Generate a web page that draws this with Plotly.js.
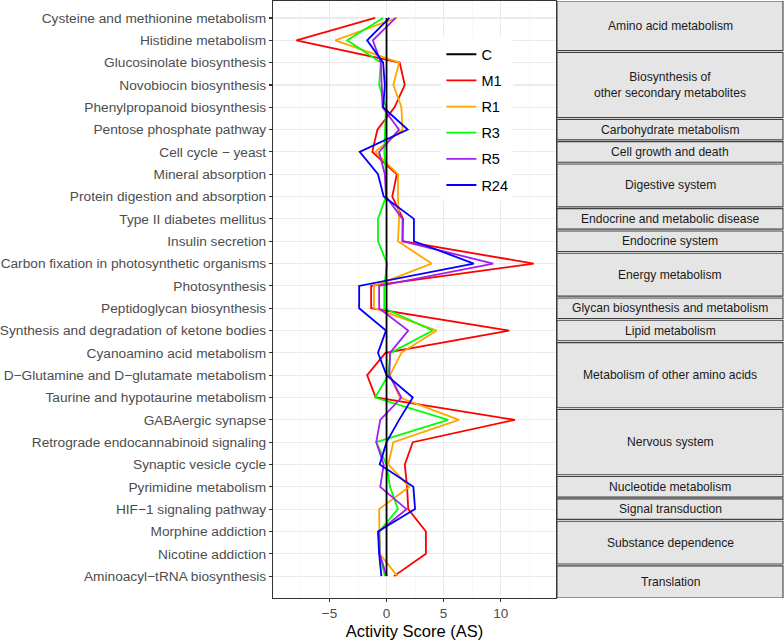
<!DOCTYPE html>
<html>
<head>
<meta charset="utf-8">
<script src="https://cdn.plot.ly/plotly-3.0.1.min.js"></script>
<style>html,body{margin:0;padding:0;background:#fff;}#chart{width:784px;height:640px;}</style>
</head>
<body>
<div id="chart"></div>
<script>
const pathways = [
  "Cysteine and methionine metabolism",
  "Histidine metabolism",
  "Glucosinolate biosynthesis",
  "Novobiocin biosynthesis",
  "Phenylpropanoid biosynthesis",
  "Pentose phosphate pathway",
  "Cell cycle \u2212 yeast",
  "Mineral absorption",
  "Protein digestion and absorption",
  "Type II diabetes mellitus",
  "Insulin secretion",
  "Carbon fixation in photosynthetic organisms",
  "Photosynthesis",
  "Peptidoglycan biosynthesis",
  "Synthesis and degradation of ketone bodies",
  "Cyanoamino acid metabolism",
  "D\u2212Glutamine and D\u2212glutamate metabolism",
  "Taurine and hypotaurine metabolism",
  "GABAergic synapse",
  "Retrograde endocannabinoid signaling",
  "Synaptic vesicle cycle",
  "Pyrimidine metabolism",
  "HIF\u22121 signaling pathway",
  "Morphine addiction",
  "Nicotine addiction",
  "Aminoacyl\u2212tRNA biosynthesis"
];

const C   = [0,0,0,0,0,0,0,0,0,0,0,0,0,0,0,0,0,0,0,0,0,0,0,0,0,0];
const M1  = [-1.0,-7.9,1.15,1.6,0.7,-0.8,-1.25,0.9,0.5,1.45,1.4,12.9,-1.35,-1.35,10.75,-0.1,-1.7,-0.95,11.25,2.3,1.6,1.8,1.9,3.45,3.45,0.65];
const R1  = [0.9,-4.5,1.1,0.6,1.3,1.4,-1.0,1.0,1.0,1.1,1.0,3.95,-1.1,-1.1,4.4,1.3,0.3,1.15,6.35,0.6,0.15,2.0,-0.65,-0.65,-0.6,0.95];
const R3  = [-0.3,-3.45,-0.5,-0.65,-0.05,-0.1,-0.2,-0.05,-0.05,-0.75,-0.75,0.05,-0.2,-0.2,4.05,0.35,0.15,-1.0,5.4,-0.9,0.0,0.3,1.0,-0.65,-0.6,-0.15];
const R5  = [0.8,-1.2,-0.5,-0.45,-0.35,1.1,-0.65,-0.15,-0.05,1.4,1.4,9.35,-0.65,-0.65,1.9,0.3,0.25,1.3,-0.55,-0.9,-0.25,-0.55,1.75,-0.65,-0.6,0.0];
const R24 = [0.25,-1.7,-0.3,-0.15,-0.3,1.85,-2.35,-0.75,-0.25,2.4,2.4,7.65,-2.4,-2.4,-0.05,-0.75,0.0,2.3,1.1,0.0,-0.6,2.35,2.5,-0.75,-0.65,-0.45];

const seriesNames = ["C","M1","R1","R3","R5","R24"];
const seriesColors = ["#000000","#FF0000","#FFA500","#00FF00","#A020F0","#0000FF"];
const seriesValues = [C, M1, R1, R3, R5, R24];

const groupLabels = [
  "Amino acid metabolism",
  "Biosynthesis of<br>other secondary metabolites",
  "Carbohydrate metabolism",
  "Cell growth and death",
  "Digestive system",
  "Endocrine and metabolic disease",
  "Endocrine system",
  "Energy metabolism",
  "Glycan biosynthesis and metabolism",
  "Lipid metabolism",
  "Metabolism of other amino acids",
  "Nervous system",
  "Nucleotide metabolism",
  "Signal transduction",
  "Substance dependence",
  "Translation"
];
const groupSizes = [2,3,1,1,2,1,1,2,1,1,3,3,1,1,2,1];

const yRange = [25.98, -0.76];

const traces = [];
// draw colored series first, black C on top
const order = [1,2,3,4,5,0];
order.forEach(i => {
  traces.push({
    type: "scatter", mode: "lines",
    x: seriesValues[i], y: pathways,
    name: seriesNames[i],
    legendrank: i + 1,
    legendgroup: seriesNames[i],
    line: {color: seriesColors[i], width: 1.8},
    hoverinfo: "x+y+name"
  });
});

const shapes = [];
const annotations = [];
const xPlot0 = 273, xPlot1 = 556;
const pw = xPlot1 - xPlot0;
const sx0 = (557 - xPlot0) / pw, sx1 = (783 - xPlot0) / pw;
let start = 0;
groupSizes.forEach((n, gi) => {
  let y0 = start - 0.5 + 0.04;
  let y1 = start + n - 1 + 0.5 - 0.04;
  if (gi === 0) y0 = yRange[1];
  if (gi === groupSizes.length - 1) y1 = yRange[0];
  shapes.push({type: "rect", xref: "paper", yref: "y", x0: sx0, x1: sx1, y0: y0, y1: y1,
    fillcolor: "#E5E5E5", line: {color: "#404040", width: 1.1}, layer: "above"});
  annotations.push({xref: "paper", yref: "y", x: (sx0 + sx1) / 2, y: (y0 + y1) / 2,
    text: groupLabels[gi], showarrow: false, xanchor: "center", yanchor: "middle",
    font: {family: "Liberation Sans, Arial, sans-serif", size: 12.1, color: "#1A1A1A"}});
  start += n;
});

const layout = {
  width: 784, height: 640,
  margin: {l: xPlot0, r: 784 - xPlot1, t: 1, b: 42, pad: 0},
  paper_bgcolor: "#FFFFFF", plot_bgcolor: "#FFFFFF",
  font: {family: "Liberation Sans, Arial, sans-serif", color: "#4D4D4D"},
  showlegend: true,
  legend: {x: 0.595, y: 0.9375, xanchor: "left", yanchor: "top", bgcolor: "#FFFFFF",
    font: {size: 14.5, color: "#000000"}, tracegroupgap: 4.3, traceorder: "grouped"},
  xaxis: {
    range: [-9.95, 14.85], tickvals: [-5, 0, 5, 10], ticktext: ["\u22125", "0", "5", "10"],
    showgrid: true, gridcolor: "#EBEBEB", gridwidth: 1.1,
    minor: {tickvals: [-7.5, -2.5, 2.5, 7.5, 12.5], showgrid: true, gridcolor: "#F3F3F3", gridwidth: 0.6, ticks: ""},
    zeroline: false, showline: true, mirror: true, linecolor: "#333333", linewidth: 1.1,
    ticks: "outside", ticklen: 3, tickcolor: "#333333", tickwidth: 1.1,
    tickfont: {size: 13.5, color: "#4D4D4D"},
    title: {text: "Activity Score (AS)", font: {size: 16.5, color: "#000000"}, standoff: 5}
  },
  yaxis: {
    type: "category", categoryorder: "array", categoryarray: pathways,
    range: yRange,
    showgrid: true, gridcolor: "#EBEBEB", gridwidth: 1.1,
    zeroline: false, showline: true, mirror: true, linecolor: "#333333", linewidth: 1.1,
    ticks: "outside", ticklen: 3, tickcolor: "#333333", tickwidth: 1.1,
    tickfont: {size: 13.7, color: "#4D4D4D"}
  },
  shapes: shapes,
  annotations: annotations
};

Plotly.newPlot("chart", traces, layout, {displayModeBar: false, staticPlot: true});
</script>
</body>
</html>
